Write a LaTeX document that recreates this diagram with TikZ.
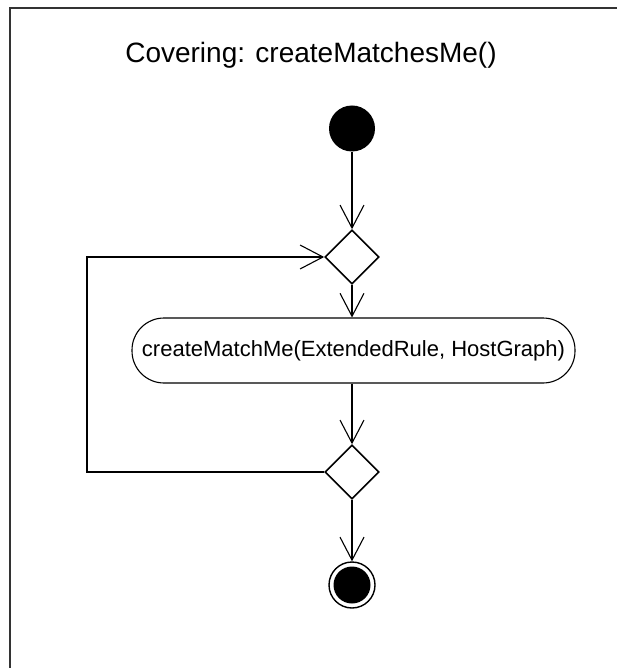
\documentclass[tikz,border=0pt]{standalone}
\usepackage{fontspec}
\setmainfont{Liberation Sans}
\usetikzlibrary{arrows.meta,shapes.geometric}

\tikzset{
  flow/.style={line width=1.1pt, -{Straight Barb[length=23pt,width=24pt,line width=1.1pt]}},
  plain/.style={line width=1.1pt},
  initial/.style={circle, fill=black, inner sep=0pt, minimum size=46pt},
  final/.style={circle, draw, line width=1.4pt, inner sep=0pt, minimum size=46pt,
    path picture={\fill[black] (path picture bounding box.center) circle (18.5pt);}},
  branch/.style={diamond, draw, line width=1.6pt, inner sep=0pt, minimum width=54pt, minimum height=54pt},
  action/.style={draw, line width=1.1pt, rounded corners=32pt, inner sep=0pt,
    minimum width=443pt, minimum height=65pt, font=\fontsize{22}{26}\selectfont},
  frametitle/.style={font=\fontsize{28}{32}\selectfont}
}

\begin{document}
\begin{tikzpicture}[x=1pt,y=-1pt]
  \useasboundingbox (0,0) rectangle (618,668);

  % open frame: left and top edges only
  \draw[line width=1.8pt, black!80] (10,668) -- (10,8) -- (617,8);

  \node[frametitle] (title) at (311,55) {Covering: createMatchesMe()};

  \node[initial] (start) at (352,128.5) {};
  \node[branch] (merge) at (352,257) {};
  \node[action] (act) at (353.5,350.5) {createMatchMe(ExtendedRule, HostGraph)};
  \node[branch] (decide) at (352,472) {};
  \node[final] (stop) at (352,585) {};

  \coordinate (loopcorner) at (87,472);

  \draw[flow] (start.south) -- (merge.north);
  \draw[flow] (merge.south) -- (merge.south |- act.north);
  \draw[flow] (merge.south |- act.south) -- (decide.north);
  \draw[flow] (decide.south) -- (stop.north);
  \draw[flow] (decide.west) -- (loopcorner) |- (merge.west);
\end{tikzpicture}
\end{document}
